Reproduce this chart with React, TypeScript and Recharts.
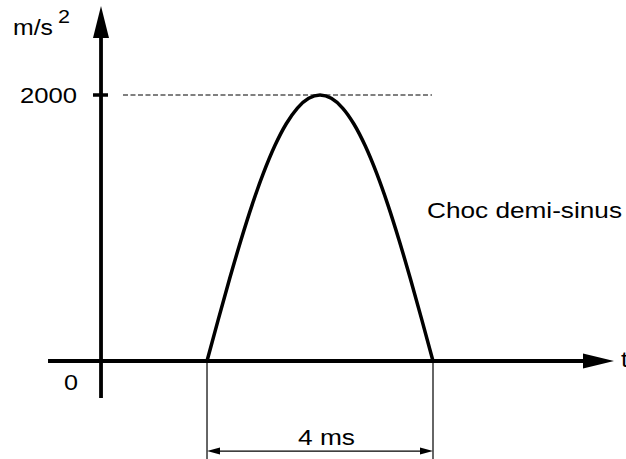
import React from 'react'
import { LineChart, Line, XAxis, YAxis, ReferenceLine, ReferenceDot } from 'recharts'

// half-sine shock, 4 ms, peak 2000 m/s²
const timeMs = [0, 0.2, 0.4, 0.6, 0.8, 1, 1.2, 1.4, 1.6, 1.8, 2, 2.2, 2.4, 2.6, 2.8, 3, 3.2, 3.4, 3.6, 3.8, 4]
const accel = [0, 313, 618, 908, 1176, 1414, 1618, 1782, 1902, 1975, 2000, 1975, 1902, 1782, 1618, 1414, 1176, 908, 618, 313, 0]

const peakLabel = '2000'
const peakValue = 2000
const pulseLabel = 'Choc demi-sinus'
const durationLabel = '4 ms'
const durationMs = 4

// visible window in data units (diagram is schematic)
const T_MIN = -3.664
const T_MAX = 7.416
const A_MIN = -736.8
const A_MAX = 2714.3

const data = timeMs.map((t, i) => ({ t, a: accel[i] }))

const FONT = '"Liberation Sans", Arial, sans-serif'
const W = 626
const H = 459

// line with filled arrowheads, drawn from the reference line's own endpoints
function arrowShape(width: number, len: number, half: number, start: boolean, end: boolean) {
  return (p: any) => {
    const { x1, y1, x2, y2 } = p
    const dx = x2 - x1
    const dy = y2 - y1
    const d = Math.sqrt(dx * dx + dy * dy) || 1
    const ux = dx / d
    const uy = dy / d
    const nx = -uy
    const ny = ux
    const head = (tx: number, ty: number, sx: number, sy: number) => {
      const bx = tx - sx * len
      const by = ty - sy * len
      return `${tx},${ty} ${bx + nx * half},${by + ny * half} ${bx - nx * half},${by - ny * half}`
    }
    const lx1 = start ? x1 + ux * (len - 1) : x1
    const ly1 = start ? y1 + uy * (len - 1) : y1
    const lx2 = end ? x2 - ux * (len - 1) : x2
    const ly2 = end ? y2 - uy * (len - 1) : y2
    return (
      <g>
        <line x1={lx1} y1={ly1} x2={lx2} y2={ly2} stroke="#000" strokeWidth={width} />
        {end && <polygon points={head(x2, y2, ux, uy)} fill="#000" />}
        {start && <polygon points={head(x1, y1, -ux, -uy)} fill="#000" />}
      </g>
    )
  }
}

// the drawing's lettering is wider than Arial, so stretch glyphs to the measured width
function textShape(value: string, size: number, length: number, anchor: 'start' | 'end' = 'start') {
  return (p: any) => (
    <text
      x={p.cx}
      y={p.cy}
      fontFamily={FONT}
      fontSize={size}
      fill="#000"
      textAnchor={anchor}
      textLength={length}
      lengthAdjust="spacingAndGlyphs"
    >
      {value}
    </text>
  )
}

export default function App() {
  return (
    <div style={{ position: 'absolute', left: 0, top: 0, width: W, height: H, background: '#fff' }}>
      <LineChart width={W} height={H} data={data} margin={{ top: 0, right: 0, bottom: 0, left: 0 }}>
        <XAxis hide type="number" dataKey="t" domain={[T_MIN, T_MAX]} allowDataOverflow />
        <YAxis hide type="number" domain={[A_MIN, A_MAX]} allowDataOverflow />

        {/* axes with arrows */}
        <ReferenceLine
          ifOverflow="visible"
          segment={[{ x: -1.876, y: -278 }, { x: -1.876, y: 2670 }]}
          shape={arrowShape(3.8, 32, 8, false, true)}
        />
        <ReferenceLine
          ifOverflow="visible"
          segment={[{ x: -2.814, y: 0 }, { x: 7.204, y: 0 }]}
          shape={arrowShape(3.8, 31, 7.5, false, true)}
        />

        {/* 2000 tick + dashed level */}
        <ReferenceLine
          ifOverflow="visible"
          segment={[{ x: -2.018, y: peakValue }, { x: -1.752, y: peakValue }]}
          stroke="#000"
          strokeWidth={3.5}
        />
        <ReferenceLine
          ifOverflow="visible"
          segment={[{ x: -1.487, y: peakValue }, { x: 3.982, y: peakValue }]}
          stroke="#000"
          strokeWidth={1}
          strokeDasharray="5 2.5"
        />

        {/* duration dimension */}
        <ReferenceLine
          ifOverflow="visible"
          segment={[{ x: 0, y: 0 }, { x: 0, y: A_MIN }]}
          stroke="#000"
          strokeWidth={1.2}
        />
        <ReferenceLine
          ifOverflow="visible"
          segment={[{ x: durationMs, y: 0 }, { x: durationMs, y: A_MIN }]}
          stroke="#000"
          strokeWidth={1.2}
        />
        <ReferenceLine
          ifOverflow="visible"
          segment={[{ x: 0, y: -677 }, { x: durationMs, y: -677 }]}
          shape={arrowShape(1.2, 13, 3.5, true, true)}
        />

        <Line
          type="monotone"
          dataKey="a"
          stroke="#000"
          strokeWidth={3.5}
          dot={false}
          activeDot={false}
          isAnimationActive={false}
        />

        {/* texts */}
        <ReferenceDot x={-3.434} y={2451} ifOverflow="visible" shape={textShape('m/s', 21.5, 40)} />
        <ReferenceDot x={-2.637} y={2541} ifOverflow="visible" shape={textShape('2', 19, 12)} />
        <ReferenceDot x={-2.301} y={1940} ifOverflow="visible" shape={textShape(peakLabel, 21.5, 57, 'end')} />
        <ReferenceDot x={-2.531} y={-218} ifOverflow="visible" shape={textShape('0', 21.5, 14)} />
        <ReferenceDot x={7.327} y={-45} ifOverflow="visible" shape={textShape('t', 21.5, 7)} />
        <ReferenceDot x={3.894} y={1075} ifOverflow="visible" shape={textShape(pulseLabel, 21.5, 195)} />
        <ReferenceDot x={1.611} y={-632} ifOverflow="visible" shape={textShape(durationLabel, 21.5, 57)} />
      </LineChart>
    </div>
  )
}
